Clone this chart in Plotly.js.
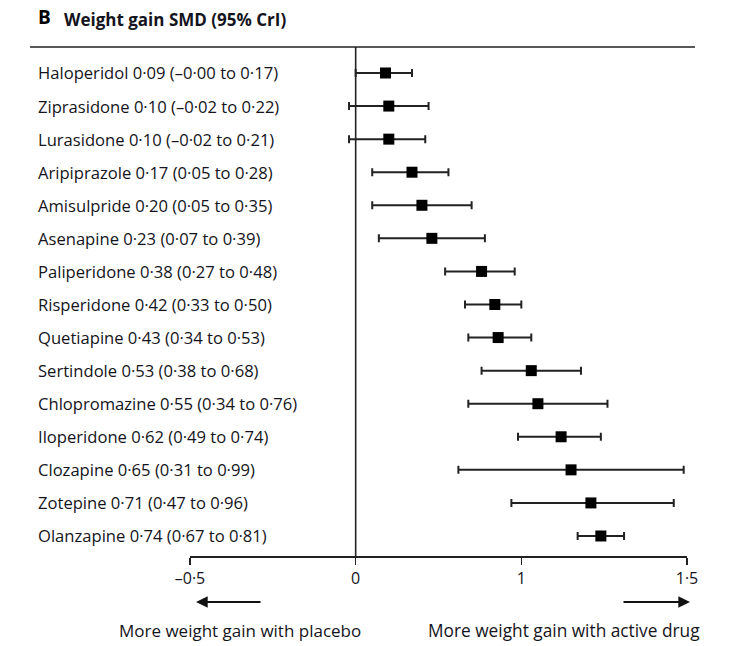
<!DOCTYPE html>
<html>
<head>
<meta charset="utf-8">
<script src="https://cdn.plot.ly/plotly-3.0.1.min.js"></script>
<style>html,body{margin:0;padding:0;background:#fff;}#chart{width:737px;height:646px;}</style>
</head>
<body>
<div id="chart"></div>
<script>
const drugs = ["Haloperidol","Ziprasidone","Lurasidone","Aripiprazole","Amisulpride","Asenapine","Paliperidone","Risperidone","Quetiapine","Sertindole","Chlopromazine","Iloperidone","Clozapine","Zotepine","Olanzapine"];
const smd   = [0.09, 0.10, 0.10, 0.17, 0.20, 0.23, 0.38, 0.42, 0.43, 0.53, 0.55, 0.62, 0.65, 0.71, 0.74];
const lower = [-0.00, -0.02, -0.02, 0.05, 0.05, 0.07, 0.27, 0.33, 0.34, 0.38, 0.34, 0.49, 0.31, 0.47, 0.67];
const upper = [0.17, 0.22, 0.21, 0.28, 0.35, 0.39, 0.48, 0.50, 0.53, 0.68, 0.76, 0.74, 0.99, 0.96, 0.81];
const tickVals = [-0.5, 0, 0.5, 1];
const tickText = ["–0·5", "0", "1", "1·5"];

function fmt(v){
  const neg = v < 0 || Object.is(v, -0);
  return (neg ? "–" : "") + Math.abs(v).toFixed(2).replace(".", "·");
}
const labels = drugs.map((d,i)=> d + " " + fmt(smd[i]) + " (" + fmt(lower[i]) + " to " + fmt(upper[i]) + ")");

const FONT = "'Open Sans', 'Liberation Sans', sans-serif";
const TXT = "#141420";

const trace = {
  type: "scatter", mode: "markers",
  x: smd, y: drugs,
  marker: {symbol: "square", size: 11, color: "#000"},
  error_x: {type: "data", symmetric: false,
    array: upper.map((u,i)=>u - smd[i]),
    arrayminus: smd.map((s,i)=>s - lower[i]),
    color: "#222", thickness: 2, width: 4},
  hoverinfo: "skip", showlegend: false, cliponaxis: false
};

const annotations = labels.map((t,i)=>({
  xref: "paper", yref: "y", x: -0.31, y: drugs[i], xanchor: "left", yanchor: "middle",
  text: t, showarrow: false, font: {family: FONT, size: 16.6, color: TXT}
}));
// title
annotations.push({xref:"paper", yref:"paper", x:-0.31, y:1.058, xanchor:"left", yanchor:"middle",
  text:"<b>B</b>", showarrow:false, font:{family:FONT, size:19, color:"#000"}});
annotations.push({xref:"paper", yref:"paper", x:-0.258, y:1.055, xanchor:"left", yanchor:"middle",
  text:"<b>Weight gain SMD (95% CrI)</b>", showarrow:false, font:{family:FONT, size:17, color:TXT}});
// arrows
annotations.push({xref:"paper", yref:"paper", x:(196-190)/497, y:-(602-556)/509,
  axref:"pixel", ayref:"pixel", ax:66, ay:0, showarrow:true, arrowhead:2, arrowsize:1.3, arrowwidth:1.8,
  arrowcolor:"#111", text:""});
annotations.push({xref:"paper", yref:"paper", x:(690-190)/497, y:-(602-556)/509,
  axref:"pixel", ayref:"pixel", ax:-68, ay:0, showarrow:true, arrowhead:2, arrowsize:1.3, arrowwidth:1.8,
  arrowcolor:"#111", text:""});
annotations.push({xref:"paper", yref:"paper", x:(240-190)/497, y:-(630-556)/509, xanchor:"center", yanchor:"middle",
  text:"More weight gain with placebo", showarrow:false, font:{family:FONT, size:17, color:TXT}});
annotations.push({xref:"paper", yref:"paper", x:(564-190)/497, y:-(630-556)/509, xanchor:"center", yanchor:"middle",
  text:"More weight gain with active drug", showarrow:false, font:{family:FONT, size:17.3, color:TXT}});

const layout = {
  width: 737, height: 646,
  margin: {l: 190, r: 50, t: 47, b: 90},
  paper_bgcolor: "#fff", plot_bgcolor: "#fff",
  font: {family: FONT, color: TXT},
  xaxis: {range: [-0.5, 1.0], tickvals: tickVals, ticktext: tickText,
    showline: true, linecolor: "#222", linewidth: 1.6, ticks: "outside", ticklen: 7, tickwidth: 1.6, tickcolor: "#222",
    showgrid: false, zeroline: false, tickfont: {family: FONT, size: 16, color: TXT}, fixedrange: true},
  yaxis: {type: "category", categoryorder: "array", categoryarray: drugs, range: [14.605, -0.786],
    showticklabels: false, showgrid: false, zeroline: false, showline: false, ticks: "", fixedrange: true},
  shapes: [
    {type: "line", xref: "paper", yref: "paper", x0: (30-190)/497, x1: (695-190)/497, y0: 1, y1: 1,
      line: {color: "#222", width: 1.6}},
    {type: "line", xref: "x", yref: "paper", x0: 0, x1: 0, y0: 0, y1: 1, line: {color: "#222", width: 1.6}}
  ],
  annotations: annotations
};

Plotly.newPlot("chart", [trace], layout, {staticPlot: true, displayModeBar: false});
</script>
</body>
</html>
